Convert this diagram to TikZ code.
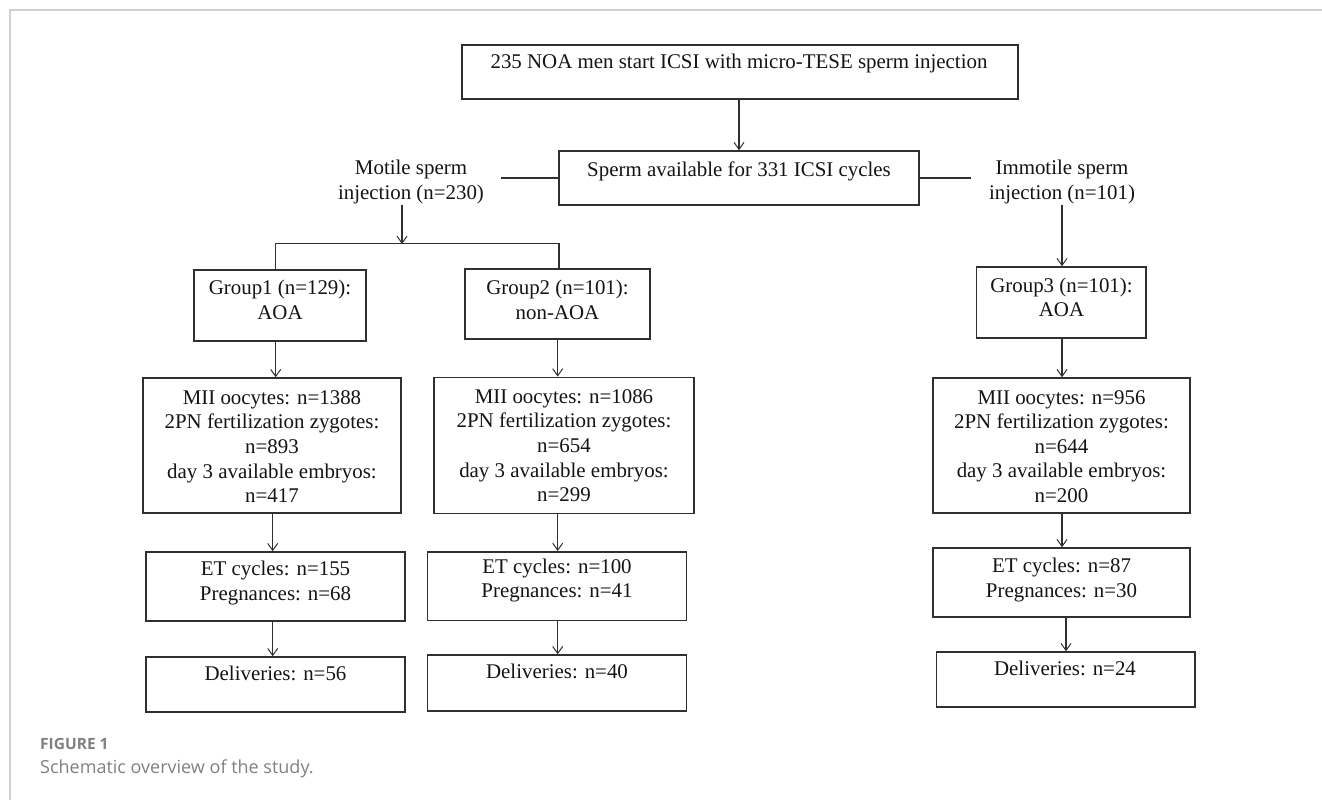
\documentclass[tikz,border=0pt]{standalone}
\usepackage{fontspec}
\setmainfont{Liberation Serif}
\newfontfamily\capfont{Open Sans}
\usetikzlibrary{arrows.meta}
\definecolor{framegray}{HTML}{D0D0D0}
\definecolor{capgray}{HTML}{808080}
\definecolor{linegray}{HTML}{303030}
\begin{document}
\begin{tikzpicture}[x=1pt,y=-1pt,
  box/.style={draw=linegray, line width=1.5pt, inner sep=0pt, rectangle},
  txt/.style={inner sep=0pt, anchor=base, align=center, font=\fontsize{20.9}{24.6}\selectfont, text=black!92},
  arr/.style={draw=linegray, line width=1.2pt, -{Straight Barb[length=7pt,width=10pt,line width=1pt]}},
  ln/.style={draw=linegray, line width=1.3pt}]
\useasboundingbox (0,0) rectangle (1322,800);
\fill[white] (0,0) rectangle (1322,800);
% frame
\draw[framegray, line width=1.5pt] (10,800) -- (10,10) -- (1322,10);

% boxes
\node[box, minimum width=556pt, minimum height=54pt] (top) at (740,72) {};
\node[box, minimum width=360pt, minimum height=54pt] (sa) at (739,178) {};
\node[box, minimum width=172pt, minimum height=71pt] (g1) at (280,305.5) {};
\node[box, minimum width=185pt, minimum height=70pt] (g2) at (557.5,304) {};
\node[box, minimum width=169.5pt, minimum height=71pt] (g3) at (1061.25,302.5) {};
\node[box, minimum width=258pt, minimum height=135pt] (m1) at (272,445.5) {};
\node[box, minimum width=260pt, minimum height=136pt] (m2) at (564,445.3) {};
\node[box, minimum width=257pt, minimum height=135pt] (m3) at (1061.5,445.5) {};
\node[box, minimum width=259pt, minimum height=69pt] (e1) at (275.5,586.5) {};
\node[box, minimum width=259pt, minimum height=68.5pt] (e2) at (557,586) {};
\node[box, minimum width=257pt, minimum height=69pt] (e3) at (1061.5,582.5) {};
\node[box, minimum width=259pt, minimum height=55pt] (d1) at (275.5,684.5) {};
\node[box, minimum width=259pt, minimum height=56pt] (d2) at (557,683) {};
\node[box, minimum width=258.5pt, minimum height=55pt] (d3) at (1065.75,679.5) {};

% texts (anchor = baseline of the last line)
\node[txt] (ttop) at (739,69) {235 NOA men start ICSI with micro-TESE sperm injection};
\node[txt] (tsa) at (739,176) {Sperm available for 331 ICSI cycles};
\node[txt] (mot) at (411,199.5) {Motile sperm\\injection (n=230)};
\node[txt] (imm) at (1062,199) {Immotile sperm\\injection (n=101)};
\node[txt] (tg1) at (280,319) {Group1 (n=129):\\AOA};
\node[txt] (tg2) at (557.5,319) {Group2 (n=101):\\non-AOA};
\node[txt] (tg3) at (1061.5,316.7) {Group3 (n=101):\\AOA};
\node[txt] (tm1) at (272,502.7) {MII oocytes: n=1388\\2PN fertilization zygotes:\\n=893\\day 3 available embryos:\\n=417};
\node[txt] (tm2) at (564,501.7) {MII oocytes: n=1086\\2PN fertilization zygotes:\\n=654\\day 3 available embryos:\\n=299};
\node[txt] (tm3) at (1061.5,502.5) {MII oocytes: n=956\\2PN fertilization zygotes:\\n=644\\day 3 available embryos:\\n=200};
\node[txt] (te1) at (275.5,600) {ET cycles: n=155\\Pregnances: n=68};
\node[txt] (te2) at (557,597.7) {ET cycles: n=100\\Pregnances: n=41};
\node[txt] (te3) at (1061.5,597.3) {ET cycles: n=87\\Pregnances: n=30};
\node[txt] (td1) at (275.5,680.5) {Deliveries: n=56};
\node[txt] (td2) at (557,678.3) {Deliveries: n=40};
\node[txt] (td3) at (1065,675.7) {Deliveries: n=24};

% free connector ends
\coordinate (motE) at (501,178);
\coordinate (immW) at (970.5,178);
\coordinate (motS) at (402,205);
\coordinate (jn) at (402,244);
\coordinate (immS) at (1062,205);

% connectors
\draw[arr] (sa.north |- top.south) -- (sa.north);
\draw[ln] (sa.west) -- (motE);
\draw[ln] (sa.east) -- (immW);
\draw[arr] (motS) -- (jn);
\draw[ln] ([xshift=-4.5pt]g1.north) -- ++(0,-26) -| ([xshift=1.5pt]g2.north);
\draw[arr] (immS) -- (immS |- g3.north);

\coordinate (a1) at ([xshift=-4.3pt]g1.south);
\draw[arr] (a1) -- (a1 |- m1.north);
\coordinate (a2) at ([xshift=0.2pt]g2.south);
\draw[arr] (a2) -- (a2 |- m2.north);
\coordinate (a3) at ([xshift=0.75pt]g3.south);
\draw[arr] (a3) -- (a3 |- m3.north);

\coordinate (b1) at ([xshift=0.7pt]m1.south);
\draw[arr] (b1) -- (b1 |- e1.north);
\coordinate (b2) at ([xshift=-6.3pt]m2.south);
\draw[arr] (b2) -- (b2 |- e2.north);
\coordinate (b3) at ([xshift=0.5pt]m3.south);
\draw[arr] (b3) -- (b3 |- e3.north);

\coordinate (c1) at ([xshift=-2.8pt]e1.south);
\draw[arr] (c1) -- (c1 |- d1.north);
\coordinate (c2) at ([xshift=0.7pt]e2.south);
\draw[arr] (c2) -- (c2 |- d2.north);
\coordinate (c3) at ([xshift=4.5pt]e3.south);
\draw[arr] (c3) -- (c3 |- d3.north);

% caption
\node[inner sep=0pt, anchor=base west, text=capgray, font=\capfont\bfseries\fontsize{15.5}{18}\selectfont] (fig) at (40,749.3) {FIGURE 1};
\node[inner sep=0pt, anchor=base west, text=capgray, font=\capfont\fontsize{18}{22}\selectfont] (cap) at (40,773.3) {Schematic overview of the study.};
\end{tikzpicture}
\end{document}
